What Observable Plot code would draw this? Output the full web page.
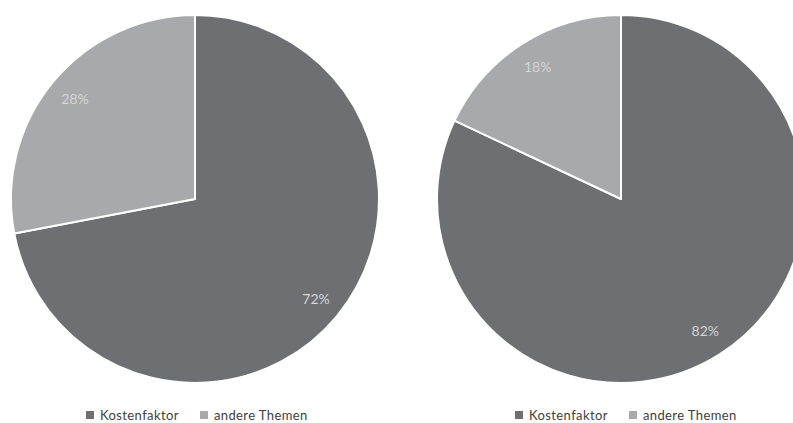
<!DOCTYPE html>
<html><head><meta charset="utf-8">
<script src="https://cdn.jsdelivr.net/npm/d3@7"></script>
<script src="https://cdn.jsdelivr.net/npm/@observablehq/plot@0.6"></script>
<style>
body{margin:0;background:#fff;font-family:Lato,"Open Sans",sans-serif;}
#wrap{position:relative;width:793px;height:423px;overflow:hidden;}
#wrap svg{position:absolute;left:0;top:0;}
.legend{position:absolute;top:407px;font-size:13px;letter-spacing:0.4px;line-height:16px;height:16px;color:#404040;display:flex;align-items:center;white-space:nowrap;}
.sw{display:inline-block;width:8px;height:8px;margin-right:6px;}
.item{display:flex;align-items:center;}
</style></head><body><div id="wrap"></div>
<script>
const categories = ["Kostenfaktor", "andere Themen"];
const valuesLeft = [72, 28];
const valuesRight = [82, 18];
const pieLabels = ["links", "rechts"];
const colors = ["#6d6f73", "#a7a9ac"];

const W = 793, H = 400, R = 184, CX = 195, CY = 199;
const centers = [0, (621 - 195) / R]; // pie centers in radius units
const pies = [valuesLeft, valuesRight].map((vals, i) => ({
  name: pieLabels[i], center: centers[i],
  arcs: d3.pie().sort(null).startAngle(0)(vals)
}));

const labelRows = [];
pies.forEach(p => p.arcs.forEach(a => {
  const mid = (a.startAngle + a.endAngle) / 2;
  labelRows.push({x: p.center + 0.85 * Math.sin(mid), y: 0.85 * Math.cos(mid), text: a.data + "%"});
}));

function pieMark(index, scales) {
  const g = d3.create("svg:g");
  for (const p of pies) {
    const cx = scales.x(p.center), cy = scales.y(0);
    const r = scales.x(p.center + 1) - cx;
    const arc = d3.arc().innerRadius(0).outerRadius(r);
    g.append("g").attr("transform", `translate(${cx},${cy})`)
      .selectAll("path").data(p.arcs).join("path")
      .attr("d", arc)
      .attr("fill", (d, i) => colors[i])
      .attr("stroke", "#fff").attr("stroke-width", 2).attr("stroke-linejoin", "round");
  }
  return g.node();
}

const chart = Plot.plot({
  width: W, height: H,
  marginTop: 0, marginBottom: 0, marginLeft: 0, marginRight: 0,
  x: {domain: [-CX / R, (W - CX) / R], axis: null},
  y: {domain: [-(H - CY) / R, CY / R], axis: null},
  style: {background: "transparent", fontFamily: "Lato, 'Open Sans', sans-serif"},
  marks: [
    pieMark,
    Plot.text(labelRows, {x: "x", y: "y", text: "text", fill: "#d3d5d7", fontSize: 14})
  ]
});
const wrap = document.getElementById("wrap");
wrap.appendChild(chart);

[{left: 86}, {left: 515}].forEach(pos => {
  const lg = document.createElement("div");
  lg.className = "legend";
  lg.style.left = pos.left + "px";
  categories.forEach((c, i) => {
    const it = document.createElement("span");
    it.className = "item";
    it.style.marginRight = i === 0 ? "21px" : "0";
    const sw = document.createElement("span");
    sw.className = "sw"; sw.style.background = colors[i];
    it.appendChild(sw);
    it.appendChild(document.createTextNode(c));
    lg.appendChild(it);
  });
  wrap.appendChild(lg);
});
</script></body></html>
